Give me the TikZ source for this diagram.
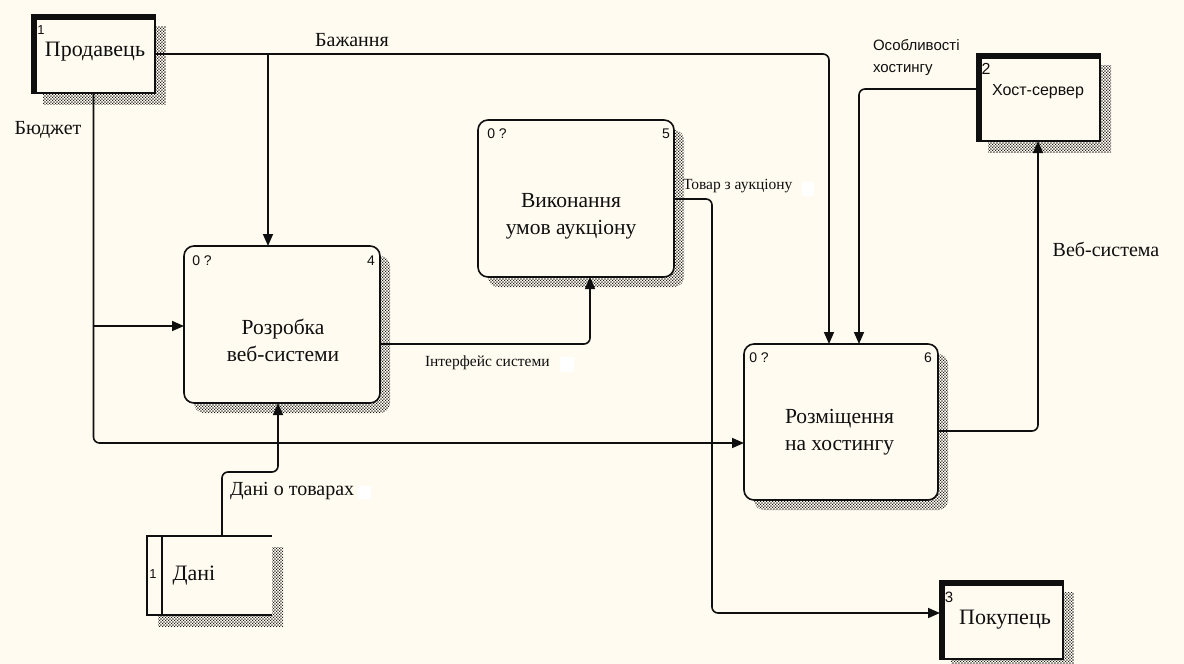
\documentclass[tikz,border=0pt]{standalone}
\usepackage{fontspec}
\setmainfont{Liberation Serif}
\setsansfont{Liberation Sans}
\usetikzlibrary{arrows.meta,patterns,backgrounds}

\definecolor{paper}{RGB}{255,251,240}
\definecolor{ink}{RGB}{15,15,15}

% checker-dot hatching used for the drop shadows
\pgfdeclarepatternformonly{idefhatch}{\pgfpointorigin}{\pgfqpoint{3.4pt}{3.4pt}}{\pgfqpoint{3.4pt}{3.4pt}}{%
  \pgfpathrectangle{\pgfqpoint{0pt}{0pt}}{\pgfqpoint{1.4pt}{1.4pt}}%
  \pgfpathrectangle{\pgfqpoint{1.7pt}{1.7pt}}{\pgfqpoint{1.4pt}{1.4pt}}%
  \pgfusepath{fill}}

\begin{document}
\begin{tikzpicture}[x=1pt,y=-1pt,
  every node/.style={inner sep=0pt, outer sep=0pt, text=ink},
  flow/.style={draw=ink, line width=1.6pt, rounded corners=6pt,
    -{Triangle[length=12pt,width=10pt]}},
  procbox/.style={draw=ink, line width=1.6pt, fill=paper, rounded corners=10pt},
  extbox/.style={draw=ink, line width=1.6pt, fill=paper},
  thickedge/.style={draw=ink, line width=4.5pt},
  hatch/.style={pattern=idefhatch, pattern color=black!90},
  proctext/.style={align=center, font=\fontsize{21.5}{27}\selectfont},
  lbl/.style={font=\fontsize{20}{24}\selectfont},
  small/.style={font=\fontsize{15.5}{18}\selectfont},
  tag/.style={font=\sffamily\fontsize{14}{16}\selectfont},
  gap/.style={fill=white}
]
\useasboundingbox (0,0) rectangle (1184,664);

% ---- activities ----
\node[procbox, minimum width=196pt, minimum height=157pt] (p4) at (282,324.5) {};
\node[procbox, minimum width=196pt, minimum height=157pt] (p5) at (576,198.5) {};
\node[procbox, minimum width=194pt, minimum height=156pt] (p6) at (841,422) {};

\node[proctext] (t4) at (283,340) {Розробка\\ веб-системи};
\node[proctext] (t5) at (571,216) {Виконання\\ умов аукціону};
\node[proctext, align=left, anchor=west] (t6) at (785,432) {Розміщення\\ на хостингу};

\node[tag] (c4) at (202,261) {0 ?};
\node[tag] (n4) at (371,261) {4};
\node[tag] (c5) at (497,134) {0 ?};
\node[tag] (n5) at (666,134) {5};
\node[tag] (c6) at (759,358) {0 ?};
\node[tag] (n6) at (928,358) {6};

% ---- external entities ----
\node[extbox, minimum width=123pt, minimum height=78pt] (seller) at (93.5,54) {};
\node[extbox, minimum width=123pt, minimum height=87pt] (host) at (1038.5,97.5) {};
\node[extbox, minimum width=123pt, minimum height=78pt] (buyer) at (1001.5,620) {};
\foreach \b in {seller,host,buyer}{
  \draw[thickedge] ([shift={(2.25,0)}]\b.south west) -- ([shift={(2.25,2.25)}]\b.north west)
    -- ([shift={(0,2.25)}]\b.north east);
}
\node[tag, font=\sffamily\fontsize{13}{15}\selectfont] (k1) at (41,30) {1};
\node[font=\fontsize{22}{25}\selectfont] (s1) at (95,52) {Продавець};
\node[tag, font=\sffamily\fontsize{16}{18}\selectfont] (k2) at (986,69) {2};
\node[font=\sffamily\fontsize{16}{18}\selectfont] (s2) at (1038,92) {Хост-сервер};
\node[tag, font=\sffamily\fontsize{15}{17}\selectfont] (k3) at (949,597) {3};
\node[font=\fontsize{22}{25}\selectfont] (s3) at (1005,620) {Покупець};

% ---- data store ----
\node[fill=paper, minimum width=125pt, minimum height=79pt] (store) at (209.5,575.5) {};
\draw[ink, line width=1.6pt] (store.north east) -- (store.north west) -- (store.south west) -- (store.south east);
\draw[ink, line width=1.6pt] ([xshift=15]store.north west) -- ([xshift=15]store.south west);
\node[tag, font=\sffamily\fontsize{13}{15}\selectfont] (k4) at (153,574) {1};
\node[font=\fontsize{22}{25}\selectfont] (s4) at (194,576) {Дані};

% ---- shadows and page ----
\begin{scope}[on background layer]
  \fill[paper] (0,0) rectangle (1184,664);
  \foreach \p in {p4,p5,p6}{
    \path[hatch, rounded corners=10pt] ([shift={(10,10)}]\p.north west) rectangle ([shift={(10,10)}]\p.south east);
  }
  \foreach \b in {seller,host,buyer,store}{
    \path[hatch] ([shift={(11,11)}]\b.north west) rectangle ([shift={(11,11)}]\b.south east);
  }
\end{scope}

% ---- arrows ----
% Бажання
\draw[flow] (seller.east) -| (p6.north -| 829,0);
\coordinate (wishsplit) at (268,54);
\draw[flow] (wishsplit) -- (p4.north -| wishsplit);
% Особливості хостингу
\draw[flow] (host.west |- 0,89) -| (p6.north -| 859,0);
% Бюджет
\draw[flow] (seller.south) |- (p6.west |- 0,443);
\coordinate (budgetsplit) at (93.5,326);
\draw[flow] (budgetsplit) -- (p4.west |- budgetsplit);
% Дані о товарах
\draw[flow] (store.north -| 222,0) -- (222,472) -- (278,472) -- (p4.south -| 278,0);
% Інтерфейс системи
\draw[flow] (p4.east |- 0,344) -| (p5.south -| 590,0);
% Товар з аукціону
\draw[flow] (p5.east |- 0,199) -- (712,199) -- (712,613) -- (buyer.west |- 0,613);
% Веб-система
\draw[flow] (p6.east |- 0,431) -| (host.south -| 1038,0);

% ---- arrow labels ----
\node[lbl] (l1) at (352,40) {Бажання};
\node[lbl] (l2) at (48,130) {Бюджет};
\node[font=\sffamily\fontsize{15}{22}\selectfont, align=left, anchor=west] (l3) at (873,58) {Особливості\\ хостингу};
\node[small, anchor=west] (l4) at (683,186) {Товар з аукціону};
\path[gap] (802,182) rectangle (814,196);
\node[small, anchor=west] (l5) at (425,363) {Інтерфейс системи};
\path[gap] (560,357) rectangle (574,372);
\node[lbl, anchor=west] (l6) at (230,491) {Дані о товарах};
\path[gap] (358,486) rectangle (371,499);
\node[lbl] (l7) at (1106,249) {Веб-система};

\end{tikzpicture}
\end{document}
